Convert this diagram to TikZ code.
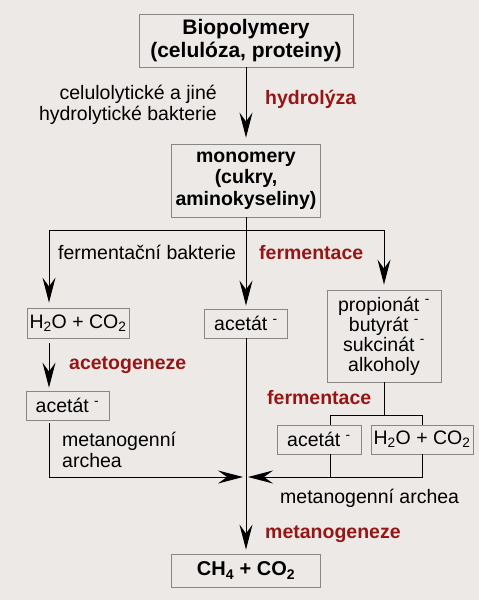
\documentclass[tikz,border=0pt]{standalone}
\usepackage{fontspec}
\setmainfont{Liberation Sans}
\usetikzlibrary{arrows.meta}
\definecolor{bgcol}{RGB}{236,233,230}
\definecolor{framecol}{RGB}{135,135,135}
\definecolor{procred}{RGB}{150,22,22}
\newcommand{\anion}{\smash{\textsuperscript{-}}}
\tikzset{
	every node/.style={font=\fontsize{19.5}{21}\selectfont, inner sep=0pt},
	box/.style={draw=framecol, line width=0.9pt, align=center},
	bbox/.style={box, font=\bfseries\fontsize{19.5}{21.5}\selectfont},
	proc/.style={text=procred, font=\bfseries\fontsize{19.5}{21}\selectfont, anchor=base west},
	lbl/.style={anchor=base west},
	link/.style={line width=1pt},
	flow/.style={link, -{Stealth[length=25pt,width=13pt,inset=9pt]}, shorten >=4pt}
}
\begin{document}
\begin{tikzpicture}[x=1pt,y=-1pt]
	\fill[bgcol] (0,0) rectangle (479,600);
	\node[bbox, minimum width=214pt, minimum height=53pt, font=\bfseries\fontsize{21}{23}\selectfont] at (246,40.5) (bio) {Biopolymery\\(celulóza, proteiny)};
	\node[bbox, minimum width=149pt, minimum height=73pt] at (246,180.5) (mono) {monomery\\(cukry,\\aminokyseliny)};
	\node[box, minimum width=102pt, minimum height=30pt] at (78,323) (h2oL) {H\textsubscript{2}O + CO\textsubscript{2}};
	\node[box, minimum width=83pt, minimum height=29pt] at (246,323.5) (acetM) {acetát \anion};
	\node[box, minimum width=114pt, minimum height=92pt, font=\fontsize{19.5}{20}\selectfont] at (384,336) (prop) {propionát \anion\\butyrát \anion\\sukcinát \anion\\alkoholy};
	\node[box, minimum width=83pt, minimum height=29pt] at (67.5,405.5) (acetL) {acetát \anion};
	\node[box, minimum width=84pt, minimum height=29pt] at (319,439.5) (acetR) {acetát \anion};
	\node[box, minimum width=102pt, minimum height=29pt] at (422,439.5) (h2oR) {H\textsubscript{2}O + CO\textsubscript{2}};
	\node[bbox, minimum width=149pt, minimum height=33pt, font=\bfseries\fontsize{20}{22}\selectfont] at (246,570.5) (ch4) {CH\textsubscript{4} + CO\textsubscript{2}};
	\node[anchor=east, align=right] at (217,105) (cellbact) {celulolytické a jiné\\hydrolytické bakterie};
	\node[lbl] at (58,259) (fermbact) {fermentační bakterie};
	\node[anchor=west, align=left] at (62,450) (archL) {metanogenní\\archea};
	\node[lbl] at (280,503) (archR) {metanogenní archea};
	\foreach \n/\x/\y/\t in {hydro/265/104.5/hydrolýza, fermA/259/259/fermentace, acetogen/69/369/acetogeneze, fermB/267/404/fermentace, metgen/265/538/metanogeneze}
		\node[proc] at (\x,\y) (\n) {\t};
	\coordinate (splitL) at (49,230);
	\coordinate (splitR) at (384,230);
	\coordinate (forkR) at (384,415);
	\coordinate (forkA) at (330,415);
	\coordinate (forkH) at (422,415);
	\coordinate (meet) at (246,477);
	\draw[flow, shorten >=6pt] (bio) -- (mono);
	\draw[flow, shorten >=3pt] (mono) -- (acetM);
	\draw[link] (splitL) -- (splitR);
	\draw[flow, shorten >=5pt] (splitL) -- (splitL |- h2oL.north);
	\draw[flow, shorten >=5pt] (splitR) -- (prop);
	\draw[flow, shorten <=5pt, shorten >=3pt] (h2oL.south -| splitL) -- (acetL.north -| splitL);
	\draw[flow, shorten <=3pt, shorten >=3pt] (acetL.south -| splitL) |- (meet);
	\draw[link] (prop) -- (forkR) (forkA) -- (forkH) (forkA) -- (acetR.north -| forkA) (forkH) -- (h2oR);
	\draw[link] (acetR.south -| forkA) -- (forkA |- meet);
	\draw[flow, shorten >=2pt] (h2oR) |- (meet);
	\draw[flow] (acetM) -- (ch4);
\end{tikzpicture}
\end{document}
